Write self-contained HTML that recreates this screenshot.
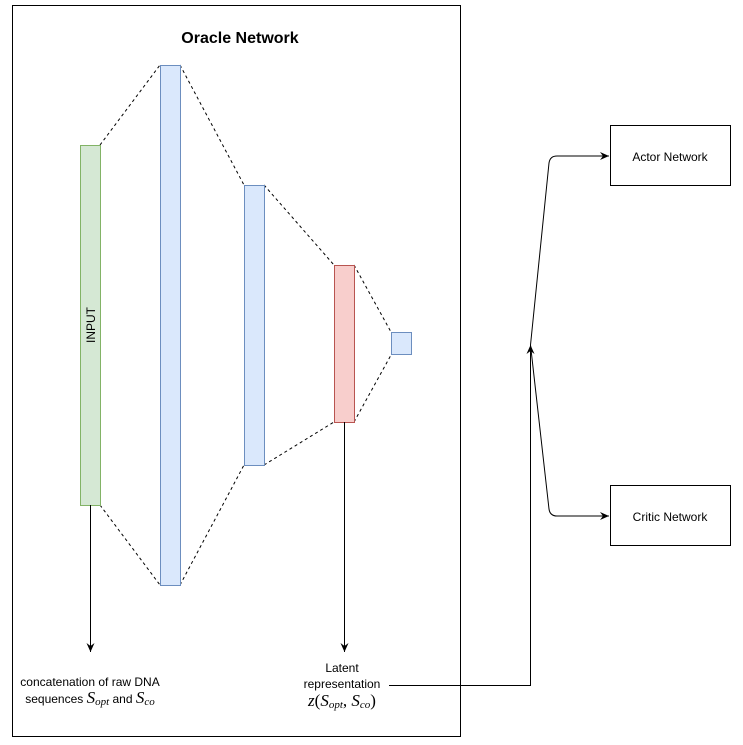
<!DOCTYPE html>
<html><head><meta charset="utf-8"><style>
html,body{margin:0;padding:0;background:#fff;}
svg{display:block;font-family:"Liberation Sans",sans-serif;}
</style></head><body>
<svg width="743" height="745" viewBox="0 0 743 745" xmlns="http://www.w3.org/2000/svg">
<defs>
<marker id="a" markerWidth="10" markerHeight="10" refX="9" refY="5" orient="auto" markerUnits="userSpaceOnUse">
<path d="M0,1 L9,5 L0,9 L3,5 Z" fill="#000"/>
</marker>
</defs>
<rect x="12.5" y="5.5" width="448" height="731" fill="#fff" stroke="#000"/>
<text x="240" y="43" font-size="16" font-weight="bold" text-anchor="middle">Oracle Network</text>
<g stroke="#000" stroke-dasharray="3,3" stroke-width="1" fill="none">
<line x1="100" y1="145" x2="160" y2="65"/>
<line x1="100" y1="505" x2="160" y2="585"/>
<line x1="180" y1="65" x2="244" y2="185"/>
<line x1="180" y1="585" x2="244" y2="465"/>
<line x1="264" y1="185" x2="334" y2="265"/>
<line x1="264" y1="465" x2="334" y2="422"/>
<line x1="354" y1="265" x2="391" y2="332"/>
<line x1="354" y1="422" x2="391" y2="355"/>
</g>
<rect x="80.5" y="145.5" width="20" height="360" fill="#d5e8d4" stroke="#82b366"/>
<text transform="translate(95,325) rotate(-90)" font-size="12" text-anchor="middle">INPUT</text>
<rect x="160.5" y="65.5" width="20" height="520" fill="#dae8fc" stroke="#6c8ebf"/>
<rect x="244.5" y="185.5" width="20" height="280" fill="#dae8fc" stroke="#6c8ebf"/>
<rect x="334.5" y="265.5" width="20" height="157" fill="#f8cecc" stroke="#b85450"/>
<rect x="391.5" y="332.5" width="20" height="22" fill="#dae8fc" stroke="#6c8ebf"/>
<g stroke="#000" fill="none">
<line x1="90.5" y1="505" x2="90.5" y2="652" marker-end="url(#a)"/>
<line x1="344.5" y1="422" x2="344.5" y2="652" marker-end="url(#a)"/>
<polyline points="389,685.5 530.5,685.5 530.5,345" marker-end="url(#a)"/>
<path d="M530.5,345 L549,163 Q550,156 557,156 L609,156" marker-end="url(#a)"/>
<path d="M530.5,345 L549,509 Q550,516 557,516 L609,516" marker-end="url(#a)"/>
</g>
<rect x="610.5" y="125.5" width="120" height="60" fill="#fff" stroke="#000"/>
<text x="670" y="161" font-size="12" text-anchor="middle">Actor Network</text>
<rect x="610.5" y="485.5" width="120" height="60" fill="#fff" stroke="#000"/>
<text x="670" y="521" font-size="12" text-anchor="middle">Critic Network</text>
<text x="90" y="686" font-size="12" text-anchor="middle">concatenation of raw DNA</text>
<text x="90" y="703" font-size="12" text-anchor="middle">sequences <tspan font-family="Liberation Serif" font-style="italic" font-size="17">S</tspan><tspan font-family="Liberation Serif" font-style="italic" font-size="11" dy="2">opt</tspan><tspan dy="-2"> and </tspan><tspan font-family="Liberation Serif" font-style="italic" font-size="17">S</tspan><tspan font-family="Liberation Serif" font-style="italic" font-size="11" dy="2">co</tspan></text>
<text x="342" y="672" font-size="12" text-anchor="middle">Latent</text>
<text x="342" y="688" font-size="12" text-anchor="middle">representation</text>
<text x="342" y="706" font-size="17" font-family="Liberation Serif" text-anchor="middle"><tspan font-style="italic">z</tspan>(<tspan font-style="italic">S</tspan><tspan font-style="italic" font-size="11" dy="2">opt</tspan><tspan dy="-2">, </tspan><tspan font-style="italic">S</tspan><tspan font-style="italic" font-size="11" dy="2">co</tspan><tspan dy="-2">)</tspan></text>
</svg>
</body></html>
